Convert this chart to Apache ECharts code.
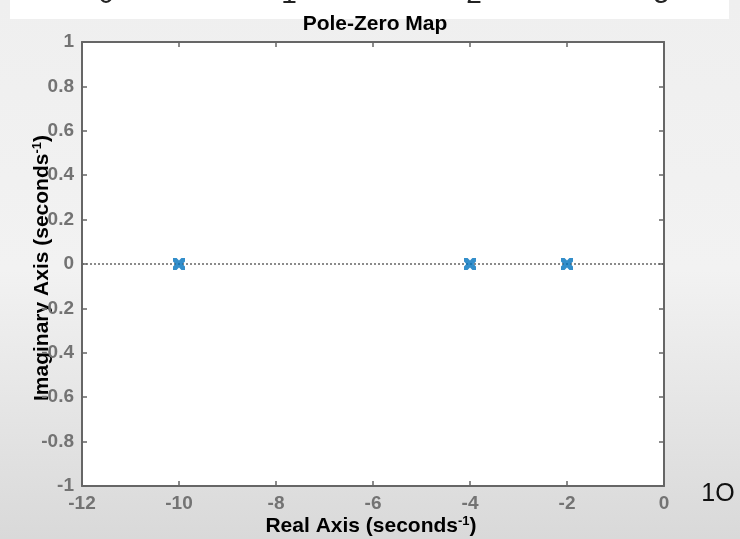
<!DOCTYPE html>
<html>
<head>
<meta charset="utf-8">
<script src="https://cdn.jsdelivr.net/npm/echarts@6/dist/echarts.min.js"></script>
<style>
html,body{margin:0;padding:0;}
#c{width:740px;height:539px;}
</style>
</head>
<body>
<div id="c"></div>
<script>
const poleReal = [-10, -4, -2];
const poleImag = [0, 0, 0];
const xTicks = [-12, -10, -8, -6, -4, -2, 0];
const yTicks = [-1, -0.8, -0.6, -0.4, -0.2, 0, 0.2, 0.4, 0.6, 0.8, 1];
const titleText = 'Pole-Zero Map';
const xLabelMain = 'Real Axis (seconds';
const yLabelMain = 'Imaginary Axis (seconds';
const stripDigits = ['0', '1', '2', '3'];
const cornerText = '1O';

const chart = echarts.init(document.getElementById('c'), null, {renderer: 'canvas'});
const FONT = 'Liberation Sans, Arial, Helvetica, sans-serif';
const axisCol = '#666666';
const tickCol = '#737373';

const fmt = v => {
  const r = Math.round(v * 10) / 10;
  return (Math.abs(r) < 1e-9) ? '0' : String(r);
};

const commonTick = {show: true, inside: true, length: 5, lineStyle: {color: axisCol, width: 1.5}};
const labelStyle = {color: tickCol, fontFamily: FONT, fontWeight: 'bold', fontSize: 19};

const richLabel = {
  a: {fontFamily: FONT, fontWeight: 'bold', fontSize: 21, color: '#000'},
  s: {fontFamily: FONT, fontWeight: 'bold', fontSize: 13, color: '#000', verticalAlign: 'top', padding: [0, 0, 10, 0]}
};

const graphics = [
  {type: 'rect', left: 10, top: 0, shape: {width: 719, height: 19}, style: {fill: '#ffffff'}, z: -1}
];
const stripX = [106, 289, 474, 661];
stripDigits.forEach((d, i) => {
  graphics.push({type: 'text', x: stripX[i], y: -5, style: {text: d, fill: '#222', font: '28px ' + FONT, textAlign: 'center', textVerticalAlign: 'middle'}});
});
graphics.push({type: 'text', x: 718, y: 494, style: {text: cornerText, fill: '#111', font: '25px ' + FONT, textAlign: 'center', textVerticalAlign: 'middle'}});
graphics.push({
  type: 'text', x: 42, y: 268, rotation: Math.PI / 2,
  style: {text: '{a|' + yLabelMain + '}{s|-1}{a|)}', textAlign: 'center', textVerticalAlign: 'middle', rich: richLabel}
});
graphics.push({
  type: 'text', x: 371, y: 526,
  style: {text: '{a|' + xLabelMain + '}{s|-1}{a|)}', textAlign: 'center', textVerticalAlign: 'middle', rich: richLabel}
});

chart.setOption({
  animation: false,
  backgroundColor: {
    type: 'linear', x: 0, y: 0, x2: 0, y2: 1,
    colorStops: [
      {offset: 0, color: '#efefef'},
      {offset: 0.5, color: '#f2f2f2'},
      {offset: 1, color: '#d9d9d9'}
    ]
  },
  title: {
    text: titleText, left: 370, top: 9, textAlign: 'center',
    textStyle: {fontFamily: FONT, fontWeight: 'bold', fontSize: 21, color: '#000'}
  },
  grid: {left: 82, right: 76, top: 42, bottom: 53, show: true, backgroundColor: '#ffffff', borderWidth: 0},
  xAxis: [
    {
      type: 'value', min: -12, max: 0, interval: 2, position: 'bottom',
      axisLine: {show: true, onZero: false, lineStyle: {color: axisCol, width: 2}},
      axisTick: commonTick, splitLine: {show: false},
      axisLabel: Object.assign({margin: 8, formatter: v => String(v)}, labelStyle)
    },
    {
      type: 'value', min: -12, max: 0, interval: 2, position: 'top',
      axisLine: {show: true, onZero: false, lineStyle: {color: axisCol, width: 2}},
      axisTick: commonTick, splitLine: {show: false}, axisLabel: {show: false}
    }
  ],
  yAxis: [
    {
      type: 'value', min: -1, max: 1, interval: 0.2, position: 'left',
      axisLine: {show: true, onZero: false, lineStyle: {color: axisCol, width: 2}},
      axisTick: commonTick, splitLine: {show: false},
      axisLabel: Object.assign({margin: 8, formatter: fmt}, labelStyle)
    },
    {
      type: 'value', min: -1, max: 1, interval: 0.2, position: 'right',
      axisLine: {show: true, onZero: false, lineStyle: {color: axisCol, width: 2}},
      axisTick: commonTick, splitLine: {show: false}, axisLabel: {show: false}
    }
  ],
  graphic: graphics,
  series: [{
    type: 'scatter',
    xAxisIndex: 0, yAxisIndex: 0,
    data: poleReal.map((x, i) => [x, poleImag[i]]),
    symbol: 'path://M0,0 L3,0 L5,2 L7,0 L10,0 L10,3 L8,5 L10,7 L10,10 L7,10 L5,8 L3,10 L0,10 L0,7 L2,5 L0,3 Z',
    symbolSize: 12,
    itemStyle: {color: '#0072BD'},
    z: 5,
    markLine: {
      silent: true, symbol: 'none', label: {show: false},
      lineStyle: {color: '#666666', width: 1.5, type: [2, 2]},
      data: [{yAxis: 0}]
    }
  }]
});
</script>
</body>
</html>
